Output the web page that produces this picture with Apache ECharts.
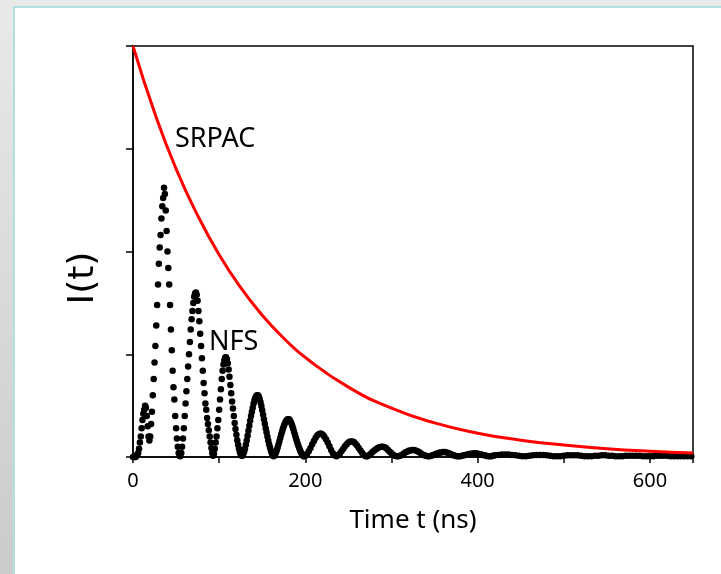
<!DOCTYPE html>
<html>
<head>
<meta charset="utf-8">
<script src="https://cdn.jsdelivr.net/npm/echarts@6/dist/echarts.min.js"></script>
<style>
  html, body { margin: 0; padding: 0; }
  body {
    width: 721px; height: 574px; overflow: hidden; position: relative;
    background: linear-gradient(#e9e9e9, #cbcbcb);
  }
  #panel {
    position: absolute; left: 13px; top: 6px; right: -4px; bottom: -4px;
    background: #fff; border: 2px solid #b3dfe4;
  }
  #chart { position: absolute; left: 0; top: 0; width: 721px; height: 574px; }
</style>
</head>
<body>
<div id="panel"></div>
<div id="chart"></div>
<script>
// SRPAC: red decay curve, read every 25-50 ns
var srpacTime = [0, 25, 50, 75, 100, 125, 150, 175, 200, 250, 300, 350, 400, 450, 500, 550, 600, 650];
var srpacI = [1.0, 0.838, 0.701, 0.588, 0.492, 0.412, 0.345, 0.289, 0.242, 0.170, 0.119, 0.083, 0.058, 0.041, 0.029, 0.020, 0.014, 0.010];

// NFS dots, t = 0..199 ns, one per ns
var nfsEarlyStart = 0, nfsEarlyStep = 1;
var nfsEarly = [
  0, 0, 0, 0, 0.003, 0.006, 0.01, 0.02, 0.035, 0.05,
  0.07, 0.09, 0.105, 0.115, 0.125, 0.12, 0.1, 0.075, 0.05, 0.04,
  0.05, 0.08, 0.11, 0.15, 0.19, 0.23, 0.27, 0.32, 0.37, 0.42,
  0.47, 0.51, 0.54, 0.58, 0.61, 0.63, 0.655, 0.64, 0.6, 0.55,
  0.5, 0.46, 0.42, 0.37, 0.31, 0.26, 0.21, 0.17, 0.14, 0.1,
  0.07, 0.045, 0.025, 0.01, 0.003, 0.002, 0.01, 0.025, 0.045, 0.07,
  0.1, 0.13, 0.16, 0.19, 0.22, 0.25, 0.28, 0.31, 0.335, 0.355,
  0.375, 0.39, 0.398, 0.4, 0.395, 0.38, 0.355, 0.33, 0.3, 0.27,
  0.24, 0.21, 0.18, 0.155, 0.13, 0.115, 0.095, 0.08, 0.065, 0.05,
  0.035, 0.022, 0.01, 0.003, 0.008, 0.02, 0.035, 0.05, 0.07, 0.09,
  0.115, 0.14, 0.165, 0.19, 0.21, 0.225, 0.235, 0.242, 0.243, 0.238,
  0.228, 0.213, 0.195, 0.175, 0.155, 0.135, 0.118, 0.1, 0.083, 0.068,
  0.054, 0.041, 0.03, 0.02, 0.012, 0.006, 0.003, 0.003, 0.007, 0.013,
  0.02, 0.03, 0.04, 0.052, 0.064, 0.076, 0.088, 0.1, 0.11, 0.12,
  0.13, 0.138, 0.144, 0.148, 0.15, 0.15, 0.147, 0.141, 0.133, 0.124,
  0.114, 0.103, 0.092, 0.081, 0.07, 0.06, 0.05, 0.04, 0.031, 0.023,
  0.016, 0.01, 0.005, 0.002, 0.003, 0.006, 0.011, 0.017, 0.024, 0.031,
  0.039, 0.047, 0.055, 0.062, 0.069, 0.075, 0.08, 0.085, 0.088, 0.091,
  0.092, 0.092, 0.09, 0.086, 0.081, 0.075, 0.068, 0.061, 0.054, 0.047,
  0.04, 0.033, 0.027, 0.021, 0.016, 0.011, 0.007, 0.004, 0.002, 0.002
];

// NFS dots, t = 200..418 ns, every 2 ns
var nfsMidStart = 200, nfsMidStep = 2;
var nfsMid = [
  0.003, 0.007, 0.014, 0.022, 0.031, 0.039, 0.047, 0.053, 0.056, 0.057,
  0.055, 0.05, 0.043, 0.035, 0.026, 0.017, 0.009, 0.004, 0.002, 0.004,
  0.008, 0.014, 0.02, 0.026, 0.031, 0.035, 0.038, 0.038, 0.037, 0.033,
  0.028, 0.022, 0.016, 0.01, 0.005, 0.002, 0.002, 0.004, 0.008, 0.012,
  0.016, 0.019, 0.022, 0.024, 0.025, 0.025, 0.024, 0.021, 0.017, 0.013,
  0.009, 0.005, 0.003, 0.002, 0.002, 0.003, 0.005, 0.008, 0.011, 0.013,
  0.015, 0.016, 0.017, 0.017, 0.016, 0.014, 0.012, 0.009, 0.006, 0.004,
  0.003, 0.002, 0.002, 0.003, 0.004, 0.006, 0.008, 0.009, 0.011, 0.011,
  0.012, 0.012, 0.011, 0.01, 0.008, 0.006, 0.004, 0.003, 0.002, 0.002,
  0.002, 0.003, 0.004, 0.005, 0.006, 0.007, 0.008, 0.008, 0.009, 0.009,
  0.008, 0.007, 0.006, 0.005, 0.004, 0.003, 0.002, 0.002, 0.002, 0.003
];

// NFS dots, t = 420..648 ns, every 4 ns
var nfsLateStart = 420, nfsLateStep = 4;
var nfsLate = [
  0.004, 0.005, 0.006, 0.006, 0.006, 0.005, 0.004, 0.003, 0.002, 0.002,
  0.003, 0.004, 0.005, 0.005, 0.005, 0.004, 0.003, 0.002, 0.002, 0.002,
  0.003, 0.004, 0.004, 0.004, 0.004, 0.003, 0.002, 0.002, 0.002, 0.003,
  0.003, 0.004, 0.004, 0.003, 0.003, 0.002, 0.002, 0.002, 0.003, 0.003,
  0.003, 0.003, 0.003, 0.002, 0.002, 0.002, 0.002, 0.003, 0.003, 0.003,
  0.003, 0.002, 0.002, 0.002, 0.002, 0.002, 0.002, 0.002
];

var xTicks = [0, 200, 400, 600];

function toPairs(values, start, step) {
  return values.map(function (v, i) { return [start + i * step, v]; });
}

var nfsData = toPairs(nfsEarly, nfsEarlyStart, nfsEarlyStep)
  .concat(toPairs(nfsMid, nfsMidStart, nfsMidStep))
  .concat(toPairs(nfsLate, nfsLateStart, nfsLateStep));
var srpacData = srpacTime.map(function (t, i) { return [t, srpacI[i]]; });

var chart = echarts.init(document.getElementById('chart'));
var font = 'Noto Sans';
chart.setOption({
  backgroundColor: 'transparent',
  animation: false,
  grid: {
    left: 133, top: 46, width: 560, height: 411,
    show: true, borderColor: '#000', borderWidth: 1.5, backgroundColor: 'transparent'
  },
  xAxis: {
    type: 'value', min: 0, max: 650, interval: 100,
    axisLine: { lineStyle: { color: '#000', width: 1.5 } },
    axisTick: { inside: false, length: 6, lineStyle: { color: '#000', width: 1.5 } },
    axisLabel: {
      color: '#000', fontSize: 20, fontFamily: font, margin: 14,
      formatter: function (v) { return xTicks.indexOf(v) >= 0 ? String(v) : ''; }
    },
    splitLine: { show: false },
    name: 'Time t (ns)', nameLocation: 'middle', nameGap: 51,
    nameTextStyle: { color: '#000', fontSize: 26, fontFamily: font }
  },
  yAxis: {
    type: 'value', min: 0, max: 1, interval: 0.25,
    axisLine: { lineStyle: { color: '#000', width: 1.5 } },
    axisTick: { inside: false, length: 7, lineStyle: { color: '#000', width: 1.5 } },
    axisLabel: { show: false },
    splitLine: { show: false }
  },
  series: [
    {
      name: 'NFS', type: 'scatter', data: nfsData,
      symbol: 'circle', symbolSize: 6.5,
      itemStyle: { color: '#000', opacity: 1 }, z: 2
    },
    {
      name: 'SRPAC', type: 'line', data: srpacData, smooth: true,
      showSymbol: false, lineStyle: { color: '#ff0000', width: 3 }, z: 3
    }
  ],
  graphic: [
    {
      type: 'text', x: 84, y: 278, rotation: Math.PI / 2,
      style: { text: 'I(t)', fill: '#000', fontSize: 36, fontFamily: 'DejaVu Sans', align: 'center', verticalAlign: 'middle' }
    },
    { type: 'text', left: 175, top: 126, style: { text: 'SRPAC', fill: '#000', fontSize: 27, fontFamily: font } },
    { type: 'text', left: 209, top: 329, style: { text: 'NFS', fill: '#000', fontSize: 27, fontFamily: font } }
  ]
});
</script>
</body>
</html>
